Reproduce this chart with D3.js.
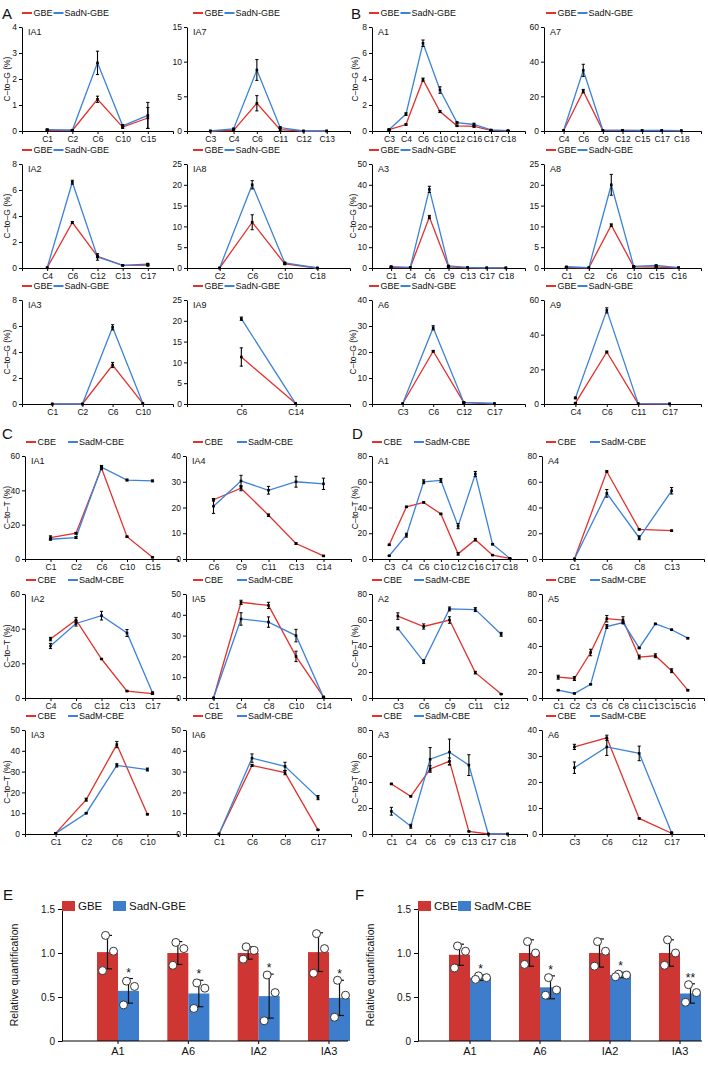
<!DOCTYPE html>
<html><head><meta charset="utf-8">
<script src="https://cdn.jsdelivr.net/npm/d3@7"></script>
<style>body{margin:0;background:#fff}svg text{font-family:Arial,"Liberation Sans",sans-serif}</style>
</head><body><svg id="c" width="708" height="1081"></svg>
<script>
// ---------------- DATA ----------------
// Panel A (GBE vs SadN-GBE), C-to-G (%)
const aIA1Cats=["C1","C2","C6","C10","C15"], aIA1Ticks=[0,1,2,3,4];
const aIA1Gbe=[0.02,0.02,1.22,0.15,0.5], aIA1GbeErr=[0.02,0.02,0.12,0.05,0.4];
const aIA1Sadn=[0.05,0.03,2.62,0.2,0.6], aIA1SadnErr=[0.03,0.02,0.45,0.05,0.5];
const aIA7Cats=["C3","C4","C6","C11","C12","C13"], aIA7Ticks=[0,5,10,15];
const aIA7Gbe=[0,0.1,4.0,0.2,0,0], aIA7GbeErr=[0,0.1,1.1,0.2,0,0];
const aIA7Sadn=[0,0.3,8.8,0.5,0,0], aIA7SadnErr=[0,0.1,1.5,0.1,0,0];
const aIA2Cats=["C4","C6","C12","C13","C17"], aIA2Ticks=[0,2,4,6,8];
const aIA2Gbe=[0.02,3.5,0.9,0.2,0.3], aIA2GbeErr=[0,0.08,0.1,0.02,0.05];
const aIA2Sadn=[0.02,6.6,0.85,0.2,0.2], aIA2SadnErr=[0,0.15,0.25,0.02,0.03];
const aIA8Cats=["C2","C6","C10","C18"], aIA8Ticks=[0,5,10,15,20,25];
const aIA8Gbe=[0,11,1.0,0], aIA8GbeErr=[0,1.8,0.2,0];
const aIA8Sadn=[0,20,1.2,0], aIA8SadnErr=[0,1.0,0.2,0];
const aIA3Cats=["C1","C2","C6","C10"], aIA3Ticks=[0,2,4,6,8];
const aIA3Gbe=[0,0,3.0,0.05], aIA3GbeErr=[0,0,0.2,0];
const aIA3Sadn=[0,0,5.9,0.05], aIA3SadnErr=[0,0,0.2,0];
const aIA9Cats=["C6","C14"], aIA9Ticks=[0,5,10,15,20,25];
const aIA9Gbe=[11.3,0.1], aIA9GbeErr=[2.2,0];
const aIA9Sadn=[20.5,0.1], aIA9SadnErr=[0.4,0];
// Panel B
const bA1Cats=["C3","C4","C6","C10","C12","C16","C17","C18"], bA1Ticks=[0,2,4,6,8];
const bA1Gbe=[0.1,0.5,3.95,1.5,0.4,0.35,0.05,0.02], bA1GbeErr=[0.02,0.05,0.12,0.08,0.05,0.05,0.01,0.01];
const bA1Sadn=[0.1,1.3,6.75,3.15,0.65,0.5,0.08,0.03], bA1SadnErr=[0.05,0.1,0.25,0.25,0.05,0.1,0.01,0.01];
const bA7Cats=["C4","C6","C9","C12","C15","C17","C18"], bA7Ticks=[0,20,40,60];
const bA7Gbe=[0.3,23,0.3,0.3,0.2,0.2,0.1], bA7GbeErr=[0,1,0,0,0,0,0];
const bA7Sadn=[0.3,35,0.4,0.4,0.3,0.3,0.2], bA7SadnErr=[0,3.5,0,0,0,0,0];
const bA3Cats=["C1","C4","C6","C9","C13","C17","C18"], bA3Ticks=[0,10,20,30,40,50];
const bA3Gbe=[0.2,0.2,24.5,0.5,0.1,0.05,0.05], bA3GbeErr=[0.1,0,0.8,0.2,0,0,0];
const bA3Sadn=[0.7,0.3,37.8,1.0,0.3,0.1,0.05], bA3SadnErr=[0.2,0,1.5,0.2,0,0,0];
const bA8Cats=["C1","C2","C6","C10","C15","C16"], bA8Ticks=[0,5,10,15,20,25];
const bA8Gbe=[0.1,0.05,10.3,0.3,0.2,0.05], bA8GbeErr=[0.05,0,0.3,0.1,0.1,0];
const bA8Sadn=[0.3,0.1,20,0.4,0.6,0.1], bA8SadnErr=[0.05,0,2.5,0.1,0.1,0];
const bA6Cats=["C3","C6","C12","C17"], bA6Ticks=[0,10,20,30,40];
const bA6Gbe=[0.1,20.3,0.5,0.1], bA6GbeErr=[0,0.3,0.2,0];
const bA6Sadn=[0.1,29.3,0.6,0.2], bA6SadnErr=[0,0.8,0.1,0];
const bA9Cats=["C4","C6","C11","C17"], bA9Ticks=[0,20,40,60];
const bA9Gbe=[0.5,30,0.1,0.05], bA9GbeErr=[0.3,0.5,0,0];
const bA9Sadn=[3.5,54,0.2,0.1], bA9SadnErr=[0.5,1.5,0,0];
// Panel C (CBE vs SadM-CBE), C-to-T (%)
const cIA1Cats=["C1","C2","C6","C10","C15"], cIA1Ticks=[0,20,40,60];
const cIA1Cbe=[12.5,15,53,13,1], cIA1CbeErr=[1,0.5,1,0.3,0.3];
const cIA1Sadm=[11.5,12.5,53.5,46,45.5], cIA1SadmErr=[0.5,0.5,1,0.5,0.5];
const cIA4Cats=["C6","C9","C11","C13","C14"], cIA4Ticks=[0,10,20,30,40];
const cIA4Cbe=[23,27.5,17,6,1.2], cIA4CbeErr=[0.5,1,0.5,0.3,0.2];
const cIA4Sadm=[20.5,30.3,26.7,30,29.2], cIA4SadmErr=[2.8,2.2,1.5,2.1,2.2];
const cIA2Cats=["C4","C6","C12","C13","C17"], cIA2Ticks=[0,20,40,60];
const cIA2Cbe=[34,45,22.5,4,2.5], cIA2CbeErr=[1,1.5,0.3,0.3,0.5];
const cIA2Sadm=[30,43,47.5,37.5,3], cIA2SadmErr=[1.5,1.5,2.5,2,0.5];
const cIA5Cats=["C1","C4","C8","C10","C14"], cIA5Ticks=[0,10,20,30,40,50];
const cIA5Cbe=[0,46,44.5,20,0.5], cIA5CbeErr=[0,1,1.5,2.5,0.3];
const cIA5Sadm=[0,38,36.5,30,0.3], cIA5SadmErr=[0,3,2.5,3,0.3];
const cIA3Cats=["C1","C2","C6","C10"], cIA3Ticks=[0,10,20,30,40,50];
const cIA3Cbe=[0.3,16.5,43,9.5], cIA3CbeErr=[0.2,0.7,1.5,0.3];
const cIA3Sadm=[0.3,10,33,31], cIA3SadmErr=[0.2,0.3,0.8,0.7];
const cIA6Cats=["C1","C6","C8","C17"], cIA6Ticks=[0,10,20,30,40,50];
const cIA6Cbe=[0,33,29.5,2], cIA6CbeErr=[0,0.5,1,0.2];
const cIA6Sadm=[0,36.5,32.5,17.5], cIA6SadmErr=[0,2,2,1];
// Panel D
const dA1Cats=["C3","C4","C6","C10","C12","C16","C17","C18"], dA1Ticks=[0,20,40,60,80];
const dA1Cbe=[11,40.5,44,35,4,15,3,0.5], dA1CbeErr=[0.5,0.5,0.5,0.5,1,1,0.3,0.2];
const dA1Sadm=[2.5,18.5,60,61,25.5,66,11.5,0.5], dA1SadmErr=[0.3,1.5,1.5,1.5,2,2,0.5,0.2];
const dA4Cats=["C1","C6","C8","C13"], dA4Ticks=[0,20,40,60,80];
const dA4Cbe=[0,68,23,22], dA4CbeErr=[0,0.5,0.5,0.5];
const dA4Sadm=[0,51,16.5,53], dA4SadmErr=[0,3,1.5,2.5];
const dA2Cats=["C3","C6","C9","C11","C12"], dA2Ticks=[0,20,40,60,80];
const dA2Cbe=[63,55,60,19.5,3], dA2CbeErr=[2.5,2,2.5,1,0.3];
const dA2Sadm=[53.5,28,68.5,68,49], dA2SadmErr=[1,1.5,1.5,1.5,1.5];
const dA5Cats=["C1","C2","C3","C6","C8","C11","C13","C15","C16"], dA5Ticks=[0,20,40,60,80];
const dA5Cbe=[16,15,35,61,60,31.5,32.5,21,6], dA5CbeErr=[1.5,1.5,2.5,2.5,2.5,1.5,1.5,1.5,0.5];
const dA5Sadm=[6,3.5,10.5,55,58,38.5,57,52.5,46], dA5SadmErr=[0.3,0.3,0.3,1.5,1,0.5,0.5,0.5,0.5];
const dA3Cats=["C1","C4","C6","C9","C13","C17","C18"], dA3Ticks=[0,20,40,60,80];
const dA3Cbe=[38.5,29,50,56,2,0,0], dA3CbeErr=[0.5,0.5,2.5,2.5,0.3,0,0];
const dA3Sadm=[17.5,6,57.5,63,53,0,0], dA3SadmErr=[3,1.5,9,10,8,0,0];
const dA6Cats=["C3","C6","C12","C17"], dA6Ticks=[0,10,20,30,40];
const dA6Cbe=[33.5,37,6,0.3], dA6CbeErr=[1,1,0.2,0.2];
const dA6Sadm=[25.5,33.5,31,0.5], dA6SadmErr=[2.2,3.3,2.8,0.2];
// Panel E / F (relative quantification)
const barGroups=["A1","A6","IA2","IA3"], barTicks=[0,0.5,1.0,1.5];
const eGbe=[1.01,1.0,1.0,1.01], eGbeSd=[0.19,0.13,0.07,0.22];
const eSadn=[0.57,0.54,0.51,0.49], eSadnSd=[0.14,0.15,0.25,0.2];
const eGbeDots=[[1.2,1.02,0.8],[1.12,1.05,0.86],[1.07,1.03,0.93],[1.22,1.05,0.77]];
const eSadnDots=[[0.68,0.62,0.41],[0.66,0.6,0.37],[0.75,0.55,0.23],[0.69,0.52,0.27]];
const eStars=["*","*","*","*"];
const fCbe=[0.98,1.0,1.0,1.0], fCbeSd=[0.12,0.15,0.16,0.15];
const fSadm=[0.72,0.61,0.75,0.54], fSadmSd=[0.03,0.13,0.03,0.11];
const fCbeDots=[[1.08,1.02,0.83],[1.13,1.0,0.87],[1.13,1.02,0.85],[1.15,1.0,0.86]];
const fSadmDots=[[0.74,0.72,0.70],[0.72,0.58,0.52],[0.76,0.75,0.73],[0.64,0.55,0.44]];
const fStars=["*","*","*","**"];

// ---------------- DRAWING ----------------
const RED="#e2322e", BLUE="#3c82d8", BARRED="#cd3633", BARBLUE="#3d7dcb";
const svg=d3.select("#c");

function styleAxis(a,fs){
  a.attr("font-family",null).attr("font-size",null);
  a.selectAll("path,line").attr("stroke","#000").attr("stroke-width",1);
  a.selectAll("text").attr("fill","#111").style("font-size",fs+"px");
}

function linePlot(o){
  const g=svg.append("g");
  const x=d3.scalePoint().domain(o.cats).range([o.x0,o.x1]).padding(1);
  const y=d3.scaleLinear().domain([0,o.ticks[o.ticks.length-1]]).range([o.bottom,o.top]);
  const xa=g.append("g").attr("transform",`translate(0,${o.bottom})`)
    .call(d3.axisBottom(x).tickSize(3).tickSizeOuter(3).tickPadding(2));
  styleAxis(xa,8.5);
  const ya=g.append("g").attr("transform",`translate(${o.x0},0)`)
    .call(d3.axisLeft(y).tickValues(o.ticks).tickFormat(d3.format("d")).tickSize(3).tickSizeOuter(0).tickPadding(2));
  styleAxis(ya,8.5);
  const series=[[o.s1,o.e1,RED],[o.s2,o.e2,BLUE]];
  series.forEach(([s,e,c])=>{
    g.append("path").attr("d",d3.line()(o.cats.map((k,i)=>[x(k),y(s[i])])))
      .attr("fill","none").attr("stroke",c).attr("stroke-width",1.3);
  });
  series.forEach(([s,e,c])=>{
    o.cats.forEach((k,i)=>{
      const cx=x(k);
      if(e[i]>0){
        const y1=y(Math.max(0,s[i]-e[i])), y2=y(s[i]+e[i]);
        g.append("line").attr("x1",cx).attr("x2",cx).attr("y1",y1).attr("y2",y2).attr("stroke","#000").attr("stroke-width",1.1);
        [y1,y2].forEach(yy=>g.append("line").attr("x1",cx-1.6).attr("x2",cx+1.6).attr("y1",yy).attr("y2",yy).attr("stroke","#000").attr("stroke-width",1));
      }
      g.append("rect").attr("x",cx-1.3).attr("y",y(s[i])-1.3).attr("width",2.6).attr("height",2.6).attr("fill","#000");
    });
  });
  g.append("text").attr("x",o.x0+6).attr("y",o.top+8).style("font-size","9px").attr("fill","#111").text(o.title);
  if(o.ylabel){
    const cy=(o.top+o.bottom)/2;
    g.append("text").attr("transform",`translate(${o.ylx},${cy}) rotate(-90)`).attr("text-anchor","middle")
      .attr("dy","0.35em").style("font-size","8.5px").attr("fill","#111").text(o.ylabel);
  }
  // legend
  const ly=o.top-14, lx=o.lx;
  g.append("line").attr("x1",lx).attr("x2",lx+10).attr("y1",ly).attr("y2",ly).attr("stroke",RED).attr("stroke-width",2);
  const t1=g.append("text").attr("x",lx+11.5).attr("y",ly).attr("dy","0.35em").style("font-size","9px").attr("fill","#111").text(o.names[0]);
  const bx=o.gap?lx+o.gap:lx+11.5+t1.node().getComputedTextLength()+1;
  g.append("line").attr("x1",bx).attr("x2",bx+10).attr("y1",ly).attr("y2",ly).attr("stroke",BLUE).attr("stroke-width",2);
  g.append("text").attr("x",bx+11).attr("y",ly).attr("dy","0.35em").style("font-size","9px").attr("fill","#111").text(o.names[1]);
}

const colsAB=[{x0:22,x1:173,lx:22},{x0:187,x1:350,lx:193},{x0:372,x1:525,lx:369},{x0:544,x1:701,lx:546}];
const rowsAB=[{top:27,bottom:131},{top:164,bottom:268},{top:300,bottom:404}];
const colsCD=[{x0:25,x1:178,lx:26},{x0:186,x1:351,lx:193},{x0:372,x1:527,lx:372},{x0:542,x1:704,lx:546}];
const rowsCD=[{top:456,bottom:559},{top:594,bottom:698},{top:730,bottom:834}];
const GN=["GBE","SadN-GBE"], CN=["CBE","SadM-CBE"];
const YG="C–to–G (%)", YT="C–to–T (%)";

function P(col,row,title,cats,ticks,s1,e1,s2,e2,names,ylabel,ylOff,gap){
  linePlot(Object.assign({},col,row,{title,cats,ticks,s1,e1,s2,e2,names,ylabel,ylx:col.x0-ylOff,gap}));
}
// A
P(colsAB[0],rowsAB[0],"IA1",aIA1Cats,aIA1Ticks,aIA1Gbe,aIA1GbeErr,aIA1Sadn,aIA1SadnErr,GN,YG,15);
P(colsAB[1],rowsAB[0],"IA7",aIA7Cats,aIA7Ticks,aIA7Gbe,aIA7GbeErr,aIA7Sadn,aIA7SadnErr,GN,null,0);
P(colsAB[0],rowsAB[1],"IA2",aIA2Cats,aIA2Ticks,aIA2Gbe,aIA2GbeErr,aIA2Sadn,aIA2SadnErr,GN,YG,15);
P(colsAB[1],rowsAB[1],"IA8",aIA8Cats,aIA8Ticks,aIA8Gbe,aIA8GbeErr,aIA8Sadn,aIA8SadnErr,GN,null,0);
P(colsAB[0],rowsAB[2],"IA3",aIA3Cats,aIA3Ticks,aIA3Gbe,aIA3GbeErr,aIA3Sadn,aIA3SadnErr,GN,YG,15);
P(colsAB[1],rowsAB[2],"IA9",aIA9Cats,aIA9Ticks,aIA9Gbe,aIA9GbeErr,aIA9Sadn,aIA9SadnErr,GN,null,0);
// B
P(colsAB[2],rowsAB[0],"A1",bA1Cats,bA1Ticks,bA1Gbe,bA1GbeErr,bA1Sadn,bA1SadnErr,GN,YG,17);
P(colsAB[3],rowsAB[0],"A7",bA7Cats,bA7Ticks,bA7Gbe,bA7GbeErr,bA7Sadn,bA7SadnErr,GN,null,0);
P(colsAB[2],rowsAB[1],"A3",bA3Cats,bA3Ticks,bA3Gbe,bA3GbeErr,bA3Sadn,bA3SadnErr,GN,YG,19);
P(colsAB[3],rowsAB[1],"A8",bA8Cats,bA8Ticks,bA8Gbe,bA8GbeErr,bA8Sadn,bA8SadnErr,GN,null,0);
P(colsAB[2],rowsAB[2],"A6",bA6Cats,bA6Ticks,bA6Gbe,bA6GbeErr,bA6Sadn,bA6SadnErr,GN,YG,19);
P(colsAB[3],rowsAB[2],"A9",bA9Cats,bA9Ticks,bA9Gbe,bA9GbeErr,bA9Sadn,bA9SadnErr,GN,null,0);
// C
P(colsCD[0],rowsCD[0],"IA1",cIA1Cats,cIA1Ticks,cIA1Cbe,cIA1CbeErr,cIA1Sadm,cIA1SadmErr,CN,YT,18,42);
P(colsCD[1],rowsCD[0],"IA4",cIA4Cats,cIA4Ticks,cIA4Cbe,cIA4CbeErr,cIA4Sadm,cIA4SadmErr,CN,null,0,44);
P(colsCD[0],rowsCD[1],"IA2",cIA2Cats,cIA2Ticks,cIA2Cbe,cIA2CbeErr,cIA2Sadm,cIA2SadmErr,CN,YT,18,42);
P(colsCD[1],rowsCD[1],"IA5",cIA5Cats,cIA5Ticks,cIA5Cbe,cIA5CbeErr,cIA5Sadm,cIA5SadmErr,CN,null,0,44);
P(colsCD[0],rowsCD[2],"IA3",cIA3Cats,cIA3Ticks,cIA3Cbe,cIA3CbeErr,cIA3Sadm,cIA3SadmErr,CN,YT,18,42);
P(colsCD[1],rowsCD[2],"IA6",cIA6Cats,cIA6Ticks,cIA6Cbe,cIA6CbeErr,cIA6Sadm,cIA6SadmErr,CN,null,0,44);
// D
P(colsCD[2],rowsCD[0],"A1",dA1Cats,dA1Ticks,dA1Cbe,dA1CbeErr,dA1Sadm,dA1SadmErr,CN,YT,17,42);
P(colsCD[3],rowsCD[0],"A4",dA4Cats,dA4Ticks,dA4Cbe,dA4CbeErr,dA4Sadm,dA4SadmErr,CN,null,0,44);
P(colsCD[2],rowsCD[1],"A2",dA2Cats,dA2Ticks,dA2Cbe,dA2CbeErr,dA2Sadm,dA2SadmErr,CN,YT,17,42);
P(colsCD[3],rowsCD[1],"A5",dA5Cats,dA5Ticks,dA5Cbe,dA5CbeErr,dA5Sadm,dA5SadmErr,CN,null,0,44);
P(colsCD[2],rowsCD[2],"A3",dA3Cats,dA3Ticks,dA3Cbe,dA3CbeErr,dA3Sadm,dA3SadmErr,CN,YT,17,42);
P(colsCD[3],rowsCD[2],"A6",dA6Cats,dA6Ticks,dA6Cbe,dA6CbeErr,dA6Sadm,dA6SadmErr,CN,null,0,44);

// Bar charts
function barPlot(o){
  const g=svg.append("g");
  const x=d3.scalePoint().domain(barGroups).range([o.c0,o.c1]);
  const y=d3.scaleLinear().domain([0,1.5]).range([o.bottom,o.top]);
  const bw=21, dotDx=[-2,6,-5];
  const sets=[[o.v1,o.sd1,o.d1,BARRED,-1],[o.v2,o.sd2,o.d2,BARBLUE,0]];
  sets.forEach(([v,sd,dots,c,side])=>{
    barGroups.forEach((k,i)=>{
      const bx=x(k)+side*bw;
      g.append("rect").attr("x",bx).attr("y",y(v[i])).attr("width",bw).attr("height",y(0)-y(v[i])).attr("fill",c);
      const cx=bx+bw/2, y1=y(v[i]-sd[i]), y2=y(v[i]+sd[i]);
      g.append("line").attr("x1",cx).attr("x2",cx).attr("y1",y1).attr("y2",y2).attr("stroke","#111").attr("stroke-width",1.2);
      [y1,y2].forEach(yy=>g.append("line").attr("x1",cx-4.5).attr("x2",cx+4.5).attr("y1",yy).attr("y2",yy).attr("stroke","#111").attr("stroke-width",1.2));
      dots[i].forEach((d,j)=>g.append("circle").attr("cx",cx+dotDx[j]).attr("cy",y(d)).attr("r",4)
        .attr("fill","#fff").attr("stroke","#333").attr("stroke-width",1));
    });
  });
  barGroups.forEach((k,i)=>{
    g.append("text").attr("x",x(k)+bw/2).attr("y",y(o.v2[i]+o.sd2[i])-2).attr("text-anchor","middle")
      .style("font-size","12px").attr("fill","#111").text(o.stars[i]);
  });
  // axes
  g.append("line").attr("x1",o.x0).attr("x2",o.x1).attr("y1",o.bottom).attr("y2",o.bottom).attr("stroke","#000");
  barGroups.forEach(k=>{
    g.append("line").attr("x1",x(k)).attr("x2",x(k)).attr("y1",o.bottom).attr("y2",o.bottom+3).attr("stroke","#000");
    g.append("text").attr("x",x(k)).attr("y",o.bottom+14).attr("text-anchor","middle").style("font-size","11px").attr("fill","#111").text(k);
  });
  const ya=g.append("g").attr("transform",`translate(${o.x0},0)`)
    .call(d3.axisLeft(y).tickValues(barTicks).tickFormat(d=>d===0?"0":d3.format(".1f")(d)).tickSize(4).tickSizeOuter(0).tickPadding(3));
  styleAxis(ya,10);
  g.append("text").attr("transform",`translate(${o.x0-48},${(o.top+o.bottom)/2}) rotate(-90)`).attr("text-anchor","middle")
    .attr("dy","0.35em").style("font-size","10.5px").attr("fill","#111").text("Relative quantification");
  // legend
  const ly=906;
  g.append("rect").attr("x",o.x0).attr("y",ly-5).attr("width",13).attr("height",10).attr("fill",BARRED);
  g.append("text").attr("x",o.x0+16).attr("y",ly).attr("dy","0.35em").style("font-size","11.5px").attr("fill","#111").text(o.names[0]);
  g.append("rect").attr("x",o.x0+o.lgap).attr("y",ly-5).attr("width",13).attr("height",10).attr("fill",BARBLUE);
  g.append("text").attr("x",o.x0+o.lgap+16).attr("y",ly).attr("dy","0.35em").style("font-size","11.5px").attr("fill","#111").text(o.names[1]);
}
barPlot({x0:62,x1:348,c0:118,c1:329,top:909,bottom:1041,v1:eGbe,sd1:eGbeSd,d1:eGbeDots,v2:eSadn,sd2:eSadnSd,d2:eSadnDots,stars:eStars,names:GN,lgap:51});
barPlot({x0:418,x1:702,c0:470,c1:680,top:909,bottom:1041,v1:fCbe,sd1:fCbeSd,d1:fCbeDots,v2:fSadm,sd2:fSadmSd,d2:fSadmDots,stars:fStars,names:CN,lgap:40});

// panel letters
[["A",2,19],["B",351,19],["C",2,439],["D",352,439],["E",3,900],["F",355,900]].forEach(([t,x,y])=>
  svg.append("text").attr("x",x).attr("y",y).style("font-size","15px").attr("fill","#111").text(t));
</script></body></html>
